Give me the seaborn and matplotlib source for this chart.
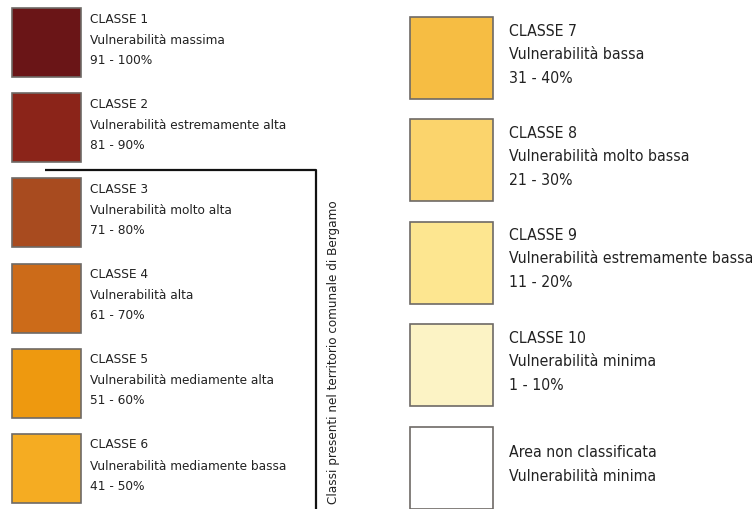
import matplotlib
matplotlib.use("Agg")
import matplotlib.pyplot as plt
from matplotlib.patches import Rectangle
import seaborn as sns

# legend content
left_titles = ["CLASSE 1", "CLASSE 2", "CLASSE 3", "CLASSE 4", "CLASSE 5", "CLASSE 6"]
left_desc = ["Vulnerabilità massima", "Vulnerabilità estremamente alta",
             "Vulnerabilità molto alta", "Vulnerabilità alta",
             "Vulnerabilità mediamente alta", "Vulnerabilità mediamente bassa"]
left_range = ["91 - 100%", "81 - 90%", "71 - 80%", "61 - 70%", "51 - 60%", "41 - 50%"]
left_colors = ["#6a1517", "#8b2419", "#a84b1f", "#cc6b19", "#ee990f", "#f5ac22"]

right_titles = ["CLASSE 7", "CLASSE 8", "CLASSE 9", "CLASSE 10", "Area non classificata"]
right_desc = ["Vulnerabilità bassa", "Vulnerabilità molto bassa",
              "Vulnerabilità estremamente bassa", "Vulnerabilità minima",
              "Vulnerabilità minima"]
right_range = ["31 - 40%", "21 - 30%", "11 - 20%", "1 - 10%", ""]
right_colors = ["#f6bd43", "#fbd46c", "#fde690", "#fcf3c5", "#ffffff"]

bracket_label = "Classi presenti nel territorio comunale di Bergamo"

sns.set_theme(style="white")
plt.rcParams['font.family'] = ['DejaVu Sans']
plt.rcParams['font.stretch'] = 'condensed'

fig = plt.figure(figsize=(7.52, 5.09), dpi=100)
ax = fig.add_axes([0, 0, 1, 1])
ax.set_xlim(0, 752)
ax.set_ylim(509, 0)
ax.axis("off")

edge = "#6e6a66"
txt = "#222222"

# left column
for i, (t, d, r, c) in enumerate(zip(left_titles, left_desc, left_range, left_colors)):
    y0 = 8 + i * 85.2
    ax.add_patch(Rectangle((12, y0), 69, 69, facecolor=c, edgecolor=edge, lw=1.2))
    ax.text(90, y0 + 11, t, fontsize=9.7, va="center", ha="left", color=txt)
    ax.text(90, y0 + 32, d, fontsize=9.7, va="center", ha="left", color=txt)
    ax.text(90, y0 + 52, r, fontsize=9.7, va="center", ha="left", color=txt)

# right column
for i, (t, d, r, c) in enumerate(zip(right_titles, right_desc, right_range, right_colors)):
    y0 = 17 + i * 102.4
    ax.add_patch(Rectangle((410, y0), 83, 82, facecolor=c, edgecolor=edge, lw=1.2))
    if r:
        ys = [y0 + 14, y0 + 37, y0 + 61]
        lines = [t, d, r]
    else:
        ys = [y0 + 26, y0 + 50]
        lines = [t, d]
    for yy, s in zip(ys, lines):
        ax.text(509, yy, s, fontsize=11.3, va="center", ha="left", color=txt)

# bracket marking classes present in Bergamo
ax.plot([45, 316, 316], [170, 170, 509], color="#111111", lw=1.6, solid_capstyle="butt")
ax.text(334, 352, bracket_label, rotation=90, fontsize=9.6, va="center", ha="center", color=txt)

fig.savefig("out.png", dpi=100)
